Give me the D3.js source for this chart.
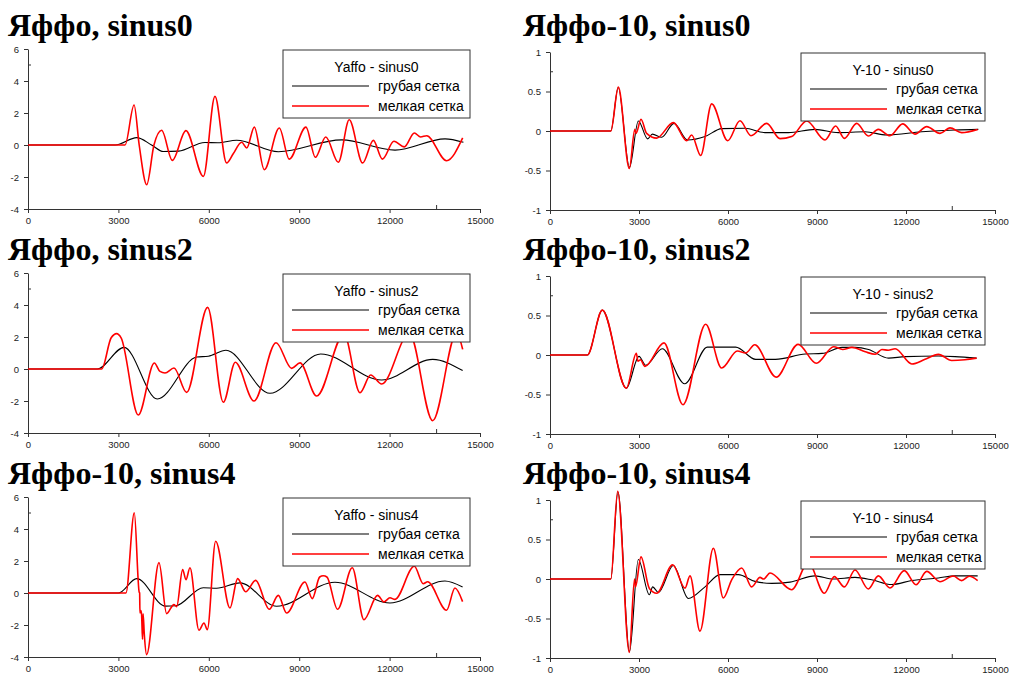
<!DOCTYPE html>
<html>
<head>
<meta charset="utf-8">
<script src="https://cdn.jsdelivr.net/npm/d3@7"></script>
<style>
  body { margin: 0; background: #fff; }
  svg { display: block; }
</style>
</head>
<body>
<svg id="chart"></svg>
<script>
// tick labels
const xTicks = [0, 3000, 6000, 9000, 12000, 15000];
const yTicksYaffo = [-4, -2, 0, 2, 4, 6];
const yTicksY10 = [-1, -0.5, 0, 0.5, 1];

const titles = ["Яффо, sinus0", "Яффо-10, sinus0", "Яффо, sinus2", "Яффо-10, sinus2", "Яффо-10, sinus4", "Яффо-10, sinus4"];
const legendTitles = ["Yaffo - sinus0", "Y-10 - sinus0", "Yaffo - sinus2", "Y-10 - sinus2", "Yaffo - sinus4", "Y-10 - sinus4"];
const seriesNames = ["грубая сетка", "мелкая сетка"];

// [time, value]
const yaffoS0Coarse = [[0,0],[2900,0],[3610,0.46],[4100,0],[4490,-0.41],[5000,-0.38],[5870,0.16],[6300,0.14],[6925,0.3],[8310,-0.42],[10410,0.32],[12180,-0.32],[13840,0.38],[14450,0.17]];
const yaffoS0Fine = [[0,0],[3220,0],[3520,2.5],[3690,0],[3940,-2.48],[4180,0],[4435,0.92],[4790,-0.96],[5240,0.9],[5820,-1.96],[6205,3.04],[6590,-1.12],[6810,-0.55],[7090,0.17],[7260,-0.19],[7510,1.12],[7840,-1.54],[8340,1.06],[8670,-0.88],[9225,1.12],[9535,-0.77],[9880,0.5],[10300,-1.08],[10660,1.58],[11105,-1.12],[11460,0.29],[11760,-0.88],[12145,0.23],[12490,-0.12],[12820,0.75],[13030,0.5],[13230,0.58],[13890,-0.98],[14425,0.44]];

const y10S0Coarse = [[0,0],[2050,0],[2300,0.55],[2680,-0.46],[2978,0.127],[3292,-0.1],[3450,-0.04],[3764,-0.08],[4180,0.097],[4640,-0.114],[5225,-0.07],[5787,0.03],[6573,0.035],[7247,-0.02],[8034,-0.02],[8933,0.02],[9719,-0.02],[10618,-0.01],[11348,-0.05],[12528,-0.01],[13652,0.013],[14438,0.02]];
const y10S0Fine = [[0,0],[2050,0],[2303,0.555],[2674,-0.475],[2860,0.02],[2900,-0.03],[3067,0.148],[3258,-0.03],[3595,-0.09],[4157,0.106],[4607,-0.123],[4775,-0.05],[5079,-0.31],[5450,0.343],[5990,-0.123],[6404,0.13],[6775,-0.06],[7303,0.097],[7753,-0.097],[8146,-0.07],[8652,0.127],[9270,-0.114],[9629,0.064],[9921,-0.093],[10337,0.097],[10730,-0.064],[11067,0.02],[11460,-0.06],[11888,0.09],[12303,-0.04],[12697,0.055],[13146,-0.03],[13483,0.04],[13876,-0.02],[14416,0.02]];

const yaffoS2Coarse = [[0,0],[2300,0],[3186,1.35],[4292,-1.875],[5597,0.75],[5985,0.8],[6570,1.17],[8031,-1.52],[9713,0.94],[11737,-0.69],[13430,0.6],[14424,-0.1]];
const yaffoS2Fine = [[0,0],[2445,0],[2760,1.95],[2942,2.21],[3090,1.95],[3661,-2.875],[4193,0.375],[4380,-0.15],[4546,-0.25],[4845,0.06],[5265,-1.46],[5962,3.85],[6482,-2.08],[6880,0.42],[7500,-2.0],[8231,1.64],[8750,0.04],[9027,0.38],[9580,-1.69],[10487,2.19],[11018,-1.48],[11372,-0.375],[11737,-0.94],[12655,2.23],[13430,-3.23],[14225,2.27],[14424,1.23]];

const y10S2Coarse = [[0,0],[1258,0],[1764,0.568],[2573,-0.42],[3000,-0.017],[3224,-0.13],[3786,0.08],[4539,-0.364],[5303,0.1],[6258,0.1],[6933,-0.055],[7600,-0.055],[8610,0.013],[9171,0.02],[9843,0.097],[10291,0.097],[10739,0.07],[11411,-0.04],[11972,-0.02],[13092,-0.013],[13652,-0.02],[14380,-0.04]];
const y10S2Fine = [[0,0],[1258,0],[1764,0.568],[2573,-0.42],[2910,0.02],[2966,-0.08],[3050,-0.06],[3202,-0.144],[3843,0.153],[4483,-0.63],[5247,0.39],[5787,-0.165],[6315,0.05],[6596,0.025],[6900,0.13],[7623,-0.28],[8363,0.135],[8979,-0.105],[9562,0.105],[9865,0.07],[10178,0.097],[10627,0.04],[10963,0.01],[11187,0.07],[11400,0.06],[11635,0.08],[12196,-0.114],[12644,-0.055],[13092,0.008],[13540,-0.07],[13988,-0.06],[14380,-0.04]];

const yaffoS4Coarse = [[0,0],[3000,0],[3606,0.9],[4560,-0.82],[4900,-0.8],[5818,0.33],[6260,0.3],[7034,0.63],[8251,-0.83],[10186,0.67],[12011,-0.625],[13836,0.75],[14422,0.375]];
const yaffoS4Fine = [[0,0],[3250,0],[3528,5.02],[3690,0.05],[3705,0],[3715,-1.25],[3745,-1.1],[3770,-1.35],[3800,-2.9],[3820,-1.3],[3860,-2.6],[3937,-3.85],[4347,1.9],[4601,-1.29],[4790,-0.8],[4840,-0.72],[4933,-0.85],[5132,1.46],[5242,0.83],[5375,1.58],[5674,-2.33],[5840,-1.875],[5950,-2.29],[6227,3.23],[6703,-0.94],[6957,0.9],[7222,0.08],[7554,0.79],[8007,-1.02],[8306,-0.15],[8583,-1.25],[9191,0.69],[9434,-0.35],[9680,1.0],[9799,1.08],[9920,1.0],[10275,-1.02],[10761,1.58],[11148,-1.67],[11602,-0.15],[11812,-0.56],[12011,-0.3],[12177,-0.4],[12819,1.67],[13117,0.58],[13261,0.7],[13891,-1.08],[14168,0.31],[14422,-0.54]];

const y10S4Coarse = [[0,0],[2050,0],[2290,1.1],[2680,-0.92],[2978,0.246],[3348,-0.2],[3461,-0.1],[3652,-0.17],[4157,0.17],[4663,-0.246],[5225,-0.1],[5730,0.055],[6348,0.055],[6910,-0.03],[7472,-0.055],[8090,-0.04],[8933,0.04],[9551,0.0],[10281,0.02],[10843,-0.01],[11517,-0.07],[12191,-0.02],[13090,0.013],[13652,0.04],[14416,0.04]];
const y10S4Fine = [[0,0],[2050,0],[2281,1.11],[2674,-0.93],[2850,0.0],[2880,-0.1],[3067,0.28],[3350,-0.12],[3596,-0.18],[4135,0.18],[4551,-0.115],[4719,0.04],[5056,-0.66],[5506,0.39],[5843,-0.24],[6124,-0.01],[6461,0.14],[6798,-0.1],[7079,0.02],[7200,0.0],[7416,0.076],[8146,-0.136],[8708,0.21],[9247,-0.18],[9584,0.03],[9921,-0.1],[10281,0.114],[10730,-0.127],[11067,0.04],[11460,-0.114],[11944,0.106],[12337,-0.072],[12697,0.097],[13146,-0.034],[13596,0.038],[13876,-0.02],[14135,0.034],[14416,-0.02]];

const coarseSeries = [yaffoS0Coarse, y10S0Coarse, yaffoS2Coarse, y10S2Coarse, yaffoS4Coarse, y10S4Coarse];
const fineSeries = [yaffoS0Fine, y10S0Fine, yaffoS2Fine, y10S2Fine, yaffoS4Fine, y10S4Fine];

// stray inner tick marks visible on every panel of the original
const innerMarkX = 13560;
const innerMarkYaffo = 5;
const innerMarkY10 = 0.75;

const W = 1009, H = 677;
const ROW = 224;
const seriesColors = ["#000000", "#ff0000"];
const seriesWidths = [1.1, 1.6];

const svg = d3.select("#chart").attr("width", W).attr("height", H);
svg.append("rect").attr("width", W).attr("height", H).attr("fill", "#fff");

titles.forEach((title, i) => {
    const col = i % 2, row = Math.floor(i / 2);
    const left = col ? 550 : 28;
    const right = col ? 995 : 480;
    const top = (col ? 52 : 49) + row * ROW;
    const bottom = (col ? 210 : 209) + row * ROW;
    const yTicks = col ? yTicksY10 : yTicksYaffo;

    const x = d3.scaleLinear().domain([0, 15000]).range([left, right]);
    const y = d3.scaleLinear().domain(d3.extent(yTicks)).range([bottom, top]);

    svg.append("text")
        .attr("x", col ? 523 : 8)
        .attr("y", 36 + row * ROW)
        .attr("font-family", "'Liberation Serif', 'Times New Roman', serif")
        .attr("font-weight", "bold")
        .attr("font-size", "32px")
        .attr("fill", "#000")
        .text(title);

    const yAxis = svg.append("g")
        .attr("transform", `translate(${left},0)`)
        .call(d3.axisLeft(y).tickValues(yTicks).tickFormat(d => String(d))
            .tickSize(4).tickSizeOuter(0).tickPadding(5));
    const xAxis = svg.append("g")
        .attr("transform", `translate(0,${bottom})`)
        .call(d3.axisBottom(x).tickValues(xTicks).tickFormat(d => String(d))
            .tickSize(4).tickSizeOuter(0).tickPadding(4));

    [yAxis, xAxis].forEach(g => {
        g.attr("color", "#333")
            .attr("font-family", "'Liberation Sans', Arial, sans-serif")
            .attr("font-size", "9.5px");
        g.selectAll("text").attr("fill", "#222");
    });

    // small inside marks
    const ym = y(col ? innerMarkY10 : innerMarkYaffo);
    svg.append("line")
        .attr("x1", left).attr("x2", left + 3)
        .attr("y1", ym).attr("y2", ym)
        .attr("stroke", "#333");
    svg.append("line")
        .attr("x1", x(innerMarkX)).attr("x2", x(innerMarkX))
        .attr("y1", bottom).attr("y2", bottom - 4)
        .attr("stroke", "#333");

    const line = d3.line()
        .x(d => x(d[0]))
        .y(d => y(d[1]))
        .curve(d3.curveMonotoneX);

    [coarseSeries[i], fineSeries[i]].forEach((data, s) => {
        svg.append("path")
            .datum(data)
            .attr("fill", "none")
            .attr("stroke", seriesColors[s])
            .attr("stroke-width", seriesWidths[s])
            .attr("stroke-linejoin", "round")
            .attr("d", line);
    });

    // legend
    const lw = col ? 184 : 187, lh = 68;
    const lx = right - 10 - lw, ly = top + 1;
    const lg = svg.append("g").attr("transform", `translate(${lx},${ly})`);
    lg.append("rect")
        .attr("width", lw).attr("height", lh)
        .attr("fill", "#fff").attr("stroke", "#333").attr("stroke-width", 1);
    lg.append("text")
        .attr("x", lw / 2).attr("y", 22)
        .attr("text-anchor", "middle")
        .attr("font-family", "'Liberation Sans', Arial, sans-serif")
        .attr("font-size", "14px")
        .text(legendTitles[i]);
    seriesNames.forEach((name, s) => {
        lg.append("line")
            .attr("x1", 9).attr("x2", 86)
            .attr("y1", 36 + s * 20).attr("y2", 36 + s * 20)
            .attr("stroke", seriesColors[s])
            .attr("stroke-width", seriesWidths[s]);
        lg.append("text")
            .attr("x", 95).attr("y", 41 + s * 20)
            .attr("font-family", "'Liberation Sans', Arial, sans-serif")
            .attr("font-size", "14px")
            .text(name);
    });
});
</script>
</body>
</html>
